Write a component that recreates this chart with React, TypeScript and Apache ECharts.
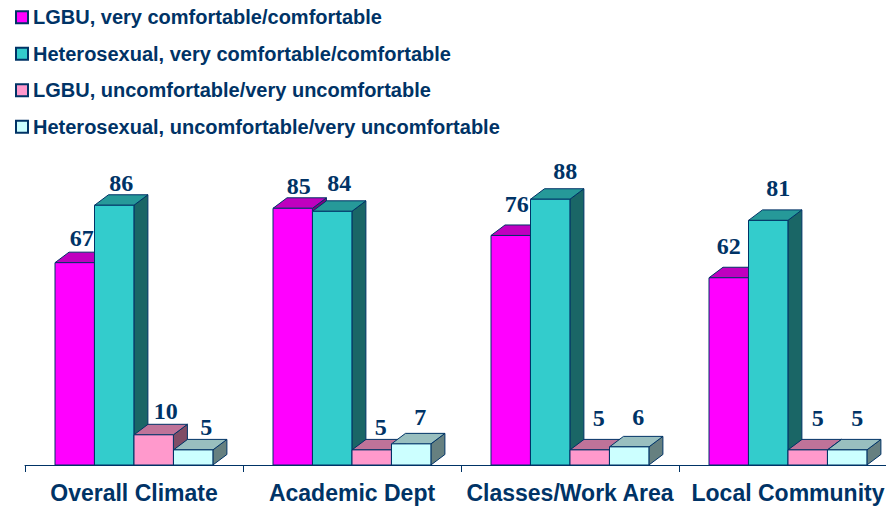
import React, { useEffect, useRef } from "react";
import * as echarts from "echarts";

const categories = ["Overall Climate", "Academic Dept", "Classes/Work Area", "Local Community"];
const seriesNames = [
  "LGBU, very comfortable/comfortable",
  "Heterosexual, very comfortable/comfortable",
  "LGBU, uncomfortable/very uncomfortable",
  "Heterosexual, uncomfortable/very uncomfortable",
];
const lgbuComfortable = [67, 85, 76, 62];
const heteroComfortable = [86, 84, 88, 81];
const lgbuUncomfortable = [10, 5, 5, 5];
const heteroUncomfortable = [5, 7, 6, 5];
const allValues = [lgbuComfortable, heteroComfortable, lgbuUncomfortable, heteroUncomfortable];

const frontColors = ["#FF00FF", "#33CCCC", "#FF99CC", "#CCFFFF"];
const topColors = ["#BF00BF", "#269999", "#BF7399", "#99BFBF"];
const sideColors = ["#800080", "#1A6666", "#804D66", "#668080"];

// label offsets from the bar's top centre: by series, then by category
const labelShiftX = [
  [7, 6, 6, 0],
  [7, 7, 15, 10],
  [12, 9, 9, 10],
  [13, 9, 9, 10],
];
const labelLift = [
  [25, 22, 31, 32],
  [22, 28, 28, 32],
  [24, 23, 32, 32],
  [23, 27, 30, 32],
];

const NAVY = "#003366";
const BAR_W = 39.4;
const DX = 14;
const DY = 10.5;

export default function App() {
  const ref = useRef<HTMLDivElement>(null);
  useEffect(() => {
    document.body.style.margin = "0";
    const chart = echarts.init(ref.current!, undefined, { renderer: "svg" });
    const edge = { stroke: NAVY, lineWidth: 1, lineJoin: "round" };
    const series = allValues.map((values, s) => ({
      type: "custom",
      name: seriesNames[s],
      data: values.map((v, i) => [i, v]),
      encode: { x: 0, y: 1 },
      clip: false,
      z: 2 + s,
      itemStyle: { color: frontColors[s], borderColor: NAVY, borderWidth: 1 },
      renderItem: (_p: any, api: any) => {
        const cat = api.value(0);
        const [cx, yTop] = api.coord([cat, api.value(1)]);
        const [, y0] = api.coord([cat, 0]);
        const x0 = Math.round((cx + (s - 2) * BAR_W) * 2) / 2;
        const x1 = x0 + BAR_W;
        return {
          type: "group",
          children: [
            {
              type: "polygon",
              shape: { points: [[x1, yTop], [x1 + DX, yTop - DY], [x1 + DX, y0 - DY], [x1, y0]] },
              style: { fill: sideColors[s], ...edge },
            },
            {
              type: "polygon",
              shape: { points: [[x0, yTop], [x0 + DX, yTop - DY], [x1 + DX, yTop - DY], [x1, yTop]] },
              style: { fill: topColors[s], ...edge },
            },
            {
              type: "rect",
              shape: { x: x0, y: yTop, width: BAR_W, height: y0 - yTop },
              style: { fill: frontColors[s], ...edge },
            },
            {
              type: "text",
              x: x0 + BAR_W / 2 + labelShiftX[s][cat],
              y: yTop - labelLift[s][cat],
              z2: 10,
              style: {
                text: String(api.value(1)),
                fill: NAVY,
                font: 'bold 24px "Liberation Serif"',
                align: "center",
                verticalAlign: "middle",
              },
            },
          ],
        };
      },
    }));
    chart.setOption({
      animation: false,
      backgroundColor: "#ffffff",
      legend: {
        orient: "vertical",
        left: 10,
        top: 0,
        itemWidth: 12,
        itemHeight: 12,
        itemGap: 12,
        icon: "rect",
        data: seriesNames,
        selectedMode: false,
        textStyle: {
          color: NAVY,
          fontFamily: "Liberation Sans",
          fontWeight: "bold",
          fontSize: 20,
          lineHeight: 24.5,
        },
      },
      grid: { left: 25, top: 163, width: 872, height: 302, outerBoundsMode: "none" },
      xAxis: {
        type: "category",
        data: categories,
        axisLine: { lineStyle: { color: NAVY, width: 1 } },
        axisTick: { show: true, alignWithLabel: false, length: 7, lineStyle: { color: NAVY } },
        axisLabel: {
          interval: 0,
          margin: 16,
          color: NAVY,
          fontFamily: "Liberation Sans",
          fontWeight: "bold",
          fontSize: 23,
        },
      },
      yAxis: { type: "value", min: 0, max: 100, show: false, splitLine: { show: false } },
      series,
    });
    return () => chart.dispose();
  }, []);
  return <div ref={ref} style={{ width: 886, height: 506 }} />;
}
